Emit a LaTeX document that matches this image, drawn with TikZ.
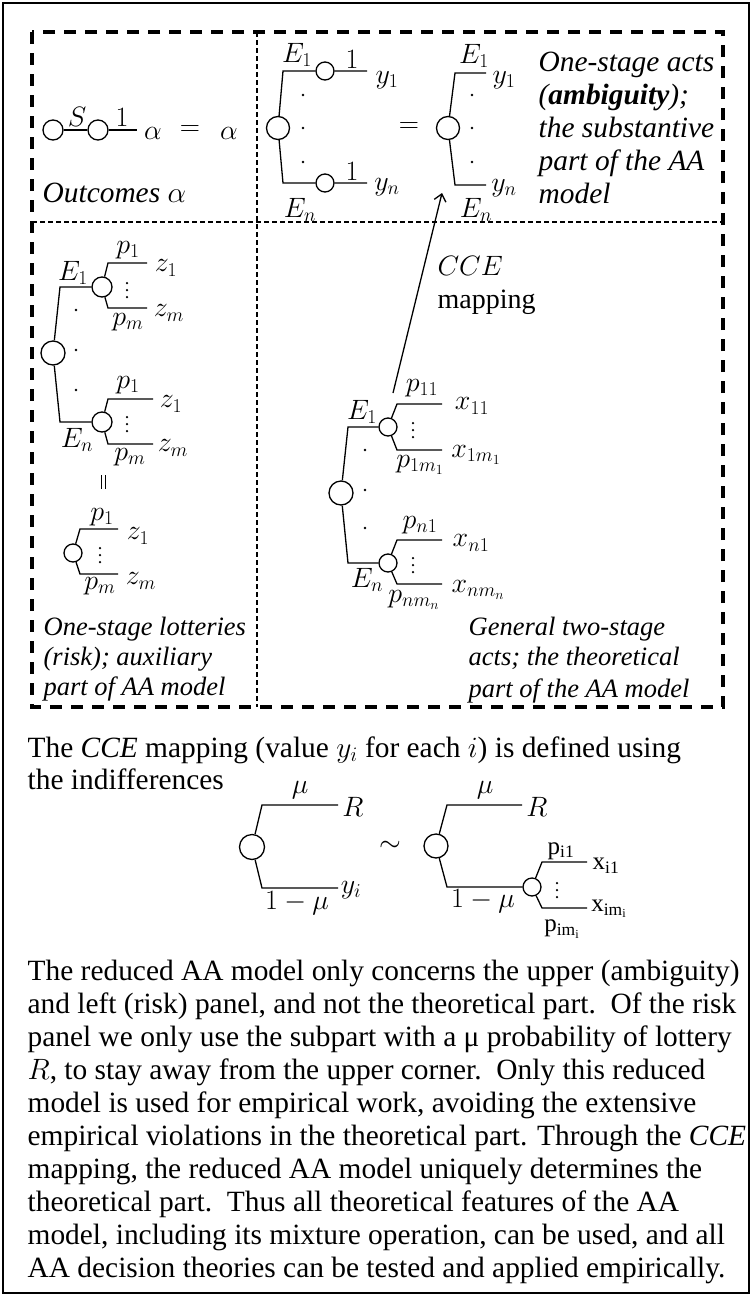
\documentclass[tikz,border=0pt]{standalone}
\usepackage{fix-cm}
\usepackage{fontspec}
\setmainfont{Liberation Serif}
\usetikzlibrary{arrows.meta}
\newcommand\myfs{\fontsize{28}{33}\selectfont}
\newcommand\bigfs{\fontsize{29.4}{33}\selectfont}
\newcommand\smfs{\fontsize{26.5}{30}\selectfont}
\newcommand\rmfs{\fontsize{25}{30}\selectfont}
% three vertical dots: name, x, y
\newcommand\vdd[3]{%
  \node[vdot] (#1a) at (#2,{#3-7}) {};
  \node[vdot] (#1b) at (#2,#3) {};
  \node[vdot] (#1c) at (#2,{#3+7}) {};}
\begin{document}
\begin{tikzpicture}[x=1pt,y=-1pt,font=\myfs,line width=1.3pt,
  ch/.style={circle,draw,inner sep=0pt,minimum size=#1,line width=1.3pt},
  lab/.style={inner sep=0pt},
  txt/.style={inner sep=0pt,anchor=base west},
  thickdash/.style={line width=3.3pt,dash pattern=on 12pt off 9pt},
  thindash/.style={line width=1.1pt,dash pattern=on 5pt off 3pt},
  dot/.style={circle,fill,inner sep=0pt,minimum size=2.8pt},
  vdot/.style={circle,fill,inner sep=0pt,minimum size=2.5pt}]
\useasboundingbox (0,0) rectangle (752,1296);
\draw[line width=2pt] (3,3) rectangle (749,1293);
% panel frames
\draw[thickdash] (32,32) rectangle (723,707);
\draw[thindash] (32,222) -- (723,222);
\draw[thindash] (257,32) -- (257,707);

% ---------- top-left: outcomes
\node[ch=20pt] (a1) at (53,130) {};
\node[ch=20pt] (a2) at (98,130) {};
\coordinate (a3) at (137,130);
\draw (a1) -- (a2) -- (a3);
\node[lab,anchor=south] (aS) at (77,127) {$S$};
\node[lab,anchor=south] (aone) at (122,127) {$1$};
\node[lab] (al1) at (153,133) {$\alpha$};
\node[lab] (aeq) at (190,131) {$=$};
\node[lab] (al2) at (229,133) {$\alpha$};
\node[txt,font=\bigfs] (outc) at (42,202) {\itshape Outcomes $\alpha$};

% ---------- top-middle: one-stage acts
\node[ch=23pt] (T) at (278,128) {};
\coordinate (Tt) at (283,71);
\coordinate (Tb) at (283,183);
\node[ch=18pt] (t1) at (325,71) {};
\node[ch=18pt] (t2) at (325,183) {};
\coordinate (t1e) at (367,71);
\coordinate (t2e) at (367,183);
\draw (T) -- (Tt) -- (t1) -- (t1e);
\draw (T) -- (Tb) -- (t2) -- (t2e);
\node[lab] (TE1) at (297,55) {$E_1$};
\node[lab] (TEn) at (300,210) {$E_n$};
\node[lab,anchor=south] (tone1) at (352,69) {$1$};
\node[lab,anchor=south] (tone2) at (352,181) {$1$};
\node[lab] (ty1) at (387,80) {$y_1$};
\node[lab] (tyn) at (387,187) {$y_n$};
\node[dot] (td1) at (303,95) {};
\node[dot] (td2) at (303,128) {};
\node[dot] (td3) at (303,162) {};
\node[lab] (teq) at (409,128) {$=$};
\node[ch=23pt] (U) at (448,128) {};
\coordinate (Ut) at (455,73);
\coordinate (Ute) at (486,73);
\coordinate (Ub) at (455,185);
\coordinate (Ube) at (486,185);
\draw (U) -- (Ut) -- (Ute);
\draw (U) -- (Ub) -- (Ube);
\node[lab] (UE1) at (474,56) {$E_1$};
\node[lab] (UEn) at (476,210) {$E_n$};
\node[lab] (Uy1) at (504,80) {$y_1$};
\node[lab] (Uyn) at (504,188) {$y_n$};
\node[dot] (ud1) at (472,95) {};
\node[dot] (ud2) at (472,128) {};
\node[dot] (ud3) at (472,162) {};
\node[txt,font=\bigfs] (tr1) at (538,71) {\itshape One-stage acts};
\node[txt,font=\bigfs] (tr2) at (538,104) {\itshape (\textbf{ambiguity});};
\node[txt,font=\bigfs] (tr3) at (538,137) {\itshape the substantive};
\node[txt,font=\bigfs] (tr4) at (538,170) {\itshape part of the AA};
\node[txt,font=\bigfs] (tr5) at (538,203) {\itshape model};

% ---------- left: two-stage with constant lotteries
\node[ch=24pt] (L) at (53,353) {};
\coordinate (Lt) at (60,287);
\coordinate (Lb) at (60,422);
\node[ch=20pt] (l1) at (102,287) {};
\node[ch=20pt] (l2) at (102,422) {};
\draw (L) -- (Lt) -- (l1);
\draw (L) -- (Lb) -- (l2);
\coordinate (l1u) at (108,263); \coordinate (l1ue) at (147,263);
\coordinate (l1d) at (108,308); \coordinate (l1de) at (147,308);
\coordinate (l2u) at (108,399); \coordinate (l2ue) at (153,399);
\coordinate (l2d) at (108,444); \coordinate (l2de) at (153,444);
\draw (l1) -- (l1u) -- (l1ue);
\draw (l1) -- (l1d) -- (l1de);
\draw (l2) -- (l2u) -- (l2ue);
\draw (l2) -- (l2d) -- (l2de);
\node[lab] (LE1) at (73,273) {$E_1$};
\node[lab] (LEn) at (77,440) {$E_n$};
\node[lab] (lp1a) at (128,250) {$p_1$};
\node[lab] (lz1a) at (166,268) {$z_1$};
\node[lab] (lpma) at (128,322) {$p_m$};
\node[lab] (lzma) at (169,313) {$z_m$};
\vdd{lvd1}{127}{290}
\node[lab] (lp1b) at (128,385) {$p_1$};
\node[lab] (lz1b) at (171,404) {$z_1$};
\node[lab] (lpmb) at (130,457) {$p_m$};
\node[lab] (lzmb) at (173,448) {$z_m$};
\vdd{lvd2}{127}{424}
\node[dot] (ld1) at (76,310) {};
\node[dot] (ld2) at (76,350) {};
\node[dot] (ld3) at (76,390) {};
\draw[line width=0.8pt] (101,475) -- (101,489) (105,475) -- (105,489);
% one-stage lottery
\node[ch=18pt] (lo) at (73,553) {};
\coordinate (lou) at (80,529); \coordinate (loue) at (118,529);
\coordinate (lod) at (80,574); \coordinate (lode) at (118,574);
\draw (lo) -- (lou) -- (loue);
\draw (lo) -- (lod) -- (lode);
\node[lab] (lop1) at (102,517) {$p_1$};
\node[lab] (loz1) at (138,536) {$z_1$};
\node[lab] (lopm) at (100,586) {$p_m$};
\node[lab] (lozm) at (141,581) {$z_m$};
\vdd{lovd}{100}{555}
\node[txt,font=\smfs] (bl1) at (43,635) {\itshape One-stage lotteries};
\node[txt,font=\smfs] (bl2) at (43,665) {\itshape (risk); auxiliary};
\node[txt,font=\smfs] (bl3) at (43,695) {\itshape part of AA model};

% ---------- middle: general two-stage acts
\node[ch=24pt] (M) at (341,493) {};
\coordinate (Mt) at (348,427);
\coordinate (Mb) at (348,563);
\node[ch=18pt] (m1) at (388,427) {};
\node[ch=18pt] (m2) at (388,563) {};
\draw (M) -- (Mt) -- (m1);
\draw (M) -- (Mb) -- (m2);
\coordinate (m1u) at (397,404); \coordinate (m1ue) at (442,404);
\coordinate (m1d) at (397,450); \coordinate (m1de) at (442,450);
\coordinate (m2u) at (397,540); \coordinate (m2ue) at (442,540);
\coordinate (m2d) at (397,584); \coordinate (m2de) at (442,584);
\draw (m1) -- (m1u) -- (m1ue);
\draw (m1) -- (m1d) -- (m1de);
\draw (m2) -- (m2u) -- (m2ue);
\draw (m2) -- (m2d) -- (m2de);
\node[lab] (ME1) at (362,412) {$E_1$};
\node[lab] (MEn) at (367,580) {$E_n$};
\node[lab] (mp11) at (422,388) {$p_{11}$};
\node[lab] (mx11) at (472,406) {$x_{11}$};
\node[lab] (mp1m) at (420,465) {$p_{1m_1}$};
\node[lab] (mx1m) at (476,455) {$x_{1m_1}$};
\vdd{mvd1}{413}{430}
\node[lab] (mpn1) at (420,525) {$p_{n1}$};
\node[lab] (mxn1) at (471,543) {$x_{n1}$};
\node[lab] (mpnm) at (414,600) {$p_{nm_n}$};
\node[lab] (mxnm) at (478,590) {$x_{nm_n}$};
\vdd{mvd2}{413}{565}
\node[dot] (md1) at (365,450) {};
\node[dot] (md2) at (365,490) {};
\node[dot] (md3) at (365,528) {};
\node[txt,font=\smfs] (br1) at (468,635) {\itshape General two-stage};
\node[txt,font=\smfs] (br2) at (468,665) {\itshape acts; the theoretical};
\node[txt,font=\smfs] (br3) at (468,697) {\itshape part of the AA model};
% CCE mapping arrow
\coordinate (arS) at (393,393);
\coordinate (arE) at (442,193);
\draw[-{Straight Barb[length=7pt,width=12pt]}] (arS) -- (arE);
\node[txt] (cce1) at (437,275) {$CCE$};
\node[txt] (cce2) at (437,308) {mapping};

% ---------- lower text
\node[txt,font=\bigfs] (lt1) at (27,757) {The \textit{CCE} mapping (value $y_i$ for each $i$) is defined using};
\node[txt,font=\bigfs] (lt2) at (27,789) {the indifferences};

% indifference trees
\node[ch=25pt] (P) at (252,847) {};
\coordinate (Pt) at (262,805); \coordinate (Pte) at (338,805);
\coordinate (Pb) at (262,888); \coordinate (Pbe) at (338,888);
\draw (P) -- (Pt) -- (Pte);
\draw (P) -- (Pb) -- (Pbe);
\node[lab] (Pmu) at (300,790) {$\mu$};
\node[lab] (PR) at (353,807) {$R$};
\node[lab] (P1m) at (297,903) {$1-\mu$};
\node[lab] (Pyi) at (351,890) {$y_i$};
\node[lab] (sim) at (390,846) {$\sim$};
\node[ch=24pt] (Q) at (436,846) {};
\coordinate (Qt) at (447,805); \coordinate (Qte) at (522,805);
\coordinate (Qb) at (447,887);
\node[ch=18pt] (q) at (532,887) {};
\draw (Q) -- (Qt) -- (Qte);
\draw (Q) -- (Qb) -- (q);
\coordinate (qu) at (542,862); \coordinate (que) at (587,862);
\coordinate (qd) at (542,908); \coordinate (qde) at (587,908);
\draw (q) -- (qu) -- (que);
\draw (q) -- (qd) -- (qde);
\node[lab] (Qmu) at (485,790) {$\mu$};
\node[lab] (QR) at (537,807) {$R$};
\node[lab] (Q1m) at (483,901) {$1-\mu$};
\node[lab,font=\rmfs] (qp1) at (561,851) {p\textsubscript{i1}};
\node[lab,font=\rmfs] (qx1) at (606,866) {x\textsubscript{i1}};
\node[lab,font=\rmfs] (qpm) at (562,929) {p\textsubscript{im\textsubscript{i}}};
\node[lab,font=\rmfs] (qxm) at (609,909) {x\textsubscript{im\textsubscript{i}}};
\vdd{qvd}{557}{890}

% paragraph
\foreach \t [count=\i] in {
 {The reduced AA model only concerns the upper (ambiguity)},
 {and left (risk) panel, and not the theoretical part.\ \ Of the risk},
 {panel we only use the subpart with a μ probability of lottery},
 {$R$, to stay away from the upper corner.\ \ Only this reduced},
 {model is used for empirical work, avoiding the extensive},
 {empirical violations in the theoretical part. Through the \textit{CCE}},
 {mapping, the reduced AA model uniquely determines the},
 {theoretical part.\ \ Thus all theoretical features of the AA},
 {model, including its mixture operation, can be used, and all},
 {AA decision theories can be tested and applied empirically.}}
 \node[txt,font=\bigfs] (par\i) at (27,{980+33.1*(\i-1)}) {\t};
\end{tikzpicture}
\end{document}
